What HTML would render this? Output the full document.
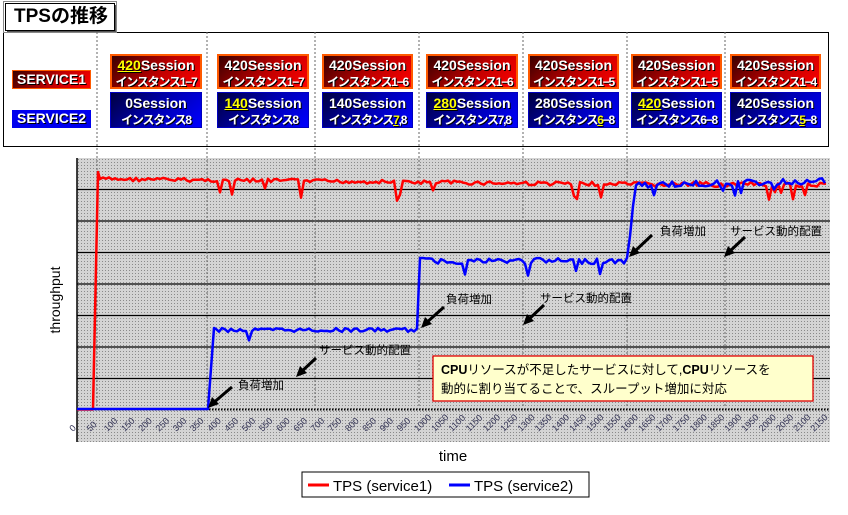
<!DOCTYPE html>
<html><head><meta charset="utf-8">
<style>
body{margin:0;width:848px;height:515px;background:#fff;position:relative;overflow:hidden;font-family:"Liberation Sans","Noto Sans CJK JP",sans-serif}
.a{position:absolute}
.title{left:5px;top:3px;width:108px;height:26px;border:1px solid #000;box-shadow:2px 2px 0 #555;outline:1px solid #888;outline-offset:1px;font-weight:bold;font-size:19px;line-height:26px;text-indent:8px;background:#fff}
.box{left:3px;top:32px;width:824px;height:113px;border:1.5px solid #000}
.c{position:absolute;color:#fff;font-weight:bold;font-size:14px;text-align:center;text-shadow:1px 1px 0 #000;line-height:16px;box-sizing:border-box;white-space:nowrap;overflow:hidden}
.r{background:linear-gradient(135deg,#3a0000,#c00000 55%,#ff0000);border:2px solid #ff5a00}
.b{background:linear-gradient(135deg,#000040,#0000b0 50%,#0000ff);border:1px solid #0000c0}
.s2{font-size:12px;letter-spacing:-1.2px;display:inline-block}
.y{color:#ff0;text-decoration:underline}
.lab{position:absolute;color:#fff;font-weight:bold;font-size:14px;line-height:17px;text-align:center;text-shadow:1px 1px 0 #000}
</style></head><body>
<div class="a box"></div>
<div class="a title">TPSの推移</div>
<div class="lab r" style="left:12px;top:70px;width:79px;height:19px;box-sizing:border-box;border-width:1px">SERVICE1</div>
<div class="lab" style="left:12px;top:110px;width:79px;height:18px;background:#0000ee">SERVICE2</div>
<div id="cells"></div>
<svg class="a" style="left:0;top:0" width="848" height="515" id="sv">
<defs>
<pattern id="dot" width="3" height="3" patternUnits="userSpaceOnUse"><rect width="3" height="3" fill="#d4d4d4"/><rect width="1" height="1" fill="#8a8a8a"/></pattern>
</defs>
<rect x="77" y="158" width="753" height="284" fill="url(#dot)"/>
<line x1="77" y1="158" x2="77" y2="442" stroke="#000" stroke-width="1.5"/>
<g stroke="#000" stroke-width="1.3">
<line x1="77" x2="830" y1="189.5" y2="189.5"/><line x1="77" x2="830" y1="221" y2="221"/>
<line x1="77" x2="830" y1="252.5" y2="252.5"/><line x1="77" x2="830" y1="284" y2="284"/>
<line x1="77" x2="830" y1="315.5" y2="315.5"/><line x1="77" x2="830" y1="347" y2="347"/>
<line x1="77" x2="830" y1="378.5" y2="378.5"/>
</g>
<line x1="77" x2="830" y1="409.5" y2="409.5" stroke="#000" stroke-width="2" stroke-dasharray="1.5 1.5"/>
<g stroke="#666" stroke-width="1" stroke-dasharray="2 2">
<line x1="97" x2="97" y1="32" y2="408"/><line x1="207" x2="207" y1="32" y2="408"/>
<line x1="315" x2="315" y1="32" y2="408"/><line x1="419" x2="419" y1="32" y2="408"/>
<line x1="523" x2="523" y1="32" y2="408"/><line x1="627" x2="627" y1="32" y2="408"/>
<line x1="725" x2="725" y1="32" y2="408"/>
</g>
<g id="ticks" font-size="9" fill="#335" font-family="Liberation Sans"></g>
<polyline id="red" fill="none" stroke="#ff0000" stroke-width="2.5" stroke-linejoin="round"/>
<polyline id="blue" fill="none" stroke="#0000ff" stroke-width="2.5" stroke-linejoin="round"/>
<g stroke="#000" stroke-width="3">
<line x1="232" y1="387" x2="212" y2="404"/><line x1="316" y1="358" x2="300" y2="373"/>
<line x1="444" y1="307" x2="425" y2="324"/><line x1="544" y1="305" x2="527" y2="321"/>
<line x1="652" y1="235" x2="633" y2="253"/><line x1="745" y1="237" x2="728" y2="253"/>
</g>
<g fill="#000">
<polygon points="208,408 212,397 219,404"/><polygon points="296,377 300,366 307,373"/>
<polygon points="421,328 425,317 432,324"/><polygon points="523,325 527,314 534,321"/>
<polygon points="629,257 633,246 640,253"/><polygon points="724,257 728,246 735,253"/>
</g>
<g font-size="11.5" fill="#000" font-family="Liberation Sans,Noto Sans CJK JP,sans-serif">
<text x="238" y="389">負荷増加</text><text x="319" y="354">サービス動的配置</text>
<text x="446" y="303">負荷増加</text><text x="540" y="302">サービス動的配置</text>
<text x="660" y="235">負荷増加</text><text x="730" y="235">サービス動的配置</text>
</g>
<rect x="433" y="356" width="380" height="45" fill="#ffffcc" stroke="#e00000" stroke-width="1.3"/>
<g font-size="12.5" fill="#000" font-family="Liberation Sans,Noto Sans CJK JP,sans-serif">
<text x="441" y="374"><tspan font-weight="bold">CPU</tspan>リソースが不足したサービスに対して,<tspan font-weight="bold">CPU</tspan>リソースを</text>
<text x="441" y="393">動的に割り当てることで、スループット増加に対応</text>
</g>
<text x="0" y="0" transform="translate(60,300) rotate(-90)" text-anchor="middle" font-size="14">throughput</text>
<text x="453" y="461" text-anchor="middle" font-size="15">time</text>
<rect x="302" y="472" width="287" height="25" fill="#fff" stroke="#000" stroke-width="1"/>
<line x1="308" x2="329" y1="485" y2="485" stroke="#f00" stroke-width="3"/>
<line x1="449" x2="470" y1="485" y2="485" stroke="#00f" stroke-width="3"/>
<text x="333" y="491" font-size="15">TPS (service1)</text>
<text x="474" y="491" font-size="15">TPS (service2)</text>
</svg>
<script>
var cells=[
["<span class=y>420</span>Session","インスタンス1−7","0Session","インスタンス8",110,92],
["420Session","インスタンス1−7","<span class=y>140</span>Session","インスタンス8",217,92],
["420Session","インスタンス1−6","140Session","インスタンス<span class=y>7</span>,8",322,91],
["420Session","インスタンス1−6","<span class=y>280</span>Session","インスタンス7,8",426,92],
["420Session","インスタンス1−5","280Session","インスタンス<span class=y>6</span>−8",528,91],
["420Session","インスタンス1−5","<span class=y>420</span>Session","インスタンス6−8",631,91],
["420Session","インスタンス1−4","420Session","インスタンス<span class=y>5</span>−8",730,91]];
var h="";cells.forEach(function(c){
h+='<div class="c r" style="left:'+c[4]+'px;top:54px;width:'+c[5]+'px;height:35px;padding-top:1px">'+c[0]+'<br><span class=s2>'+c[1]+'</span></div>';
h+='<div class="c b" style="left:'+c[4]+'px;top:92px;width:'+c[5]+'px;height:36px;padding-top:2px">'+c[2]+'<br><span class=s2>'+c[3]+'</span></div>';});
document.getElementById('cells').innerHTML=h;
var t="";for(var i=0;i<=2150;i+=50){var x=73+i*0.3447;t+='<text transform="translate('+x+',432) rotate(-45)">'+i+'</text>';}
document.getElementById('ticks').innerHTML=t;
var s=7;function rnd(){s=(s*9301+49297)%233280;return s/233280;}
var r=[[77,409.5],[93,409.5],[98,172]];for(var x=100;x<=827;x+=3){var y=x<630?177+(x-100)*0.01+rnd()*4:182+rnd()*5;if(rnd()<0.04)y+=8+rnd()*12;r.push([x,y]);}
var b=[[77,409],[208,409],[214,328]];
for(var x=216;x<=827;x+=3){var y;if(x<419)y=328+rnd()*4+(rnd()<0.06?10:0);else if(x<424){y=258;}else if(x<628)y=258+rnd()*6+(rnd()<0.08?12:0);else if(x<636)y=256-(x-628)*10;else y=182-(x-636)*0.02+rnd()*6+(rnd()<0.08?10:0);b.push([x,y]);}
function p(a){return a.map(function(q){return q[0].toFixed(1)+','+q[1].toFixed(1)}).join(' ');}
document.getElementById('red').setAttribute('points',p(r));
document.getElementById('blue').setAttribute('points',p(b));
</script>
</body></html>
